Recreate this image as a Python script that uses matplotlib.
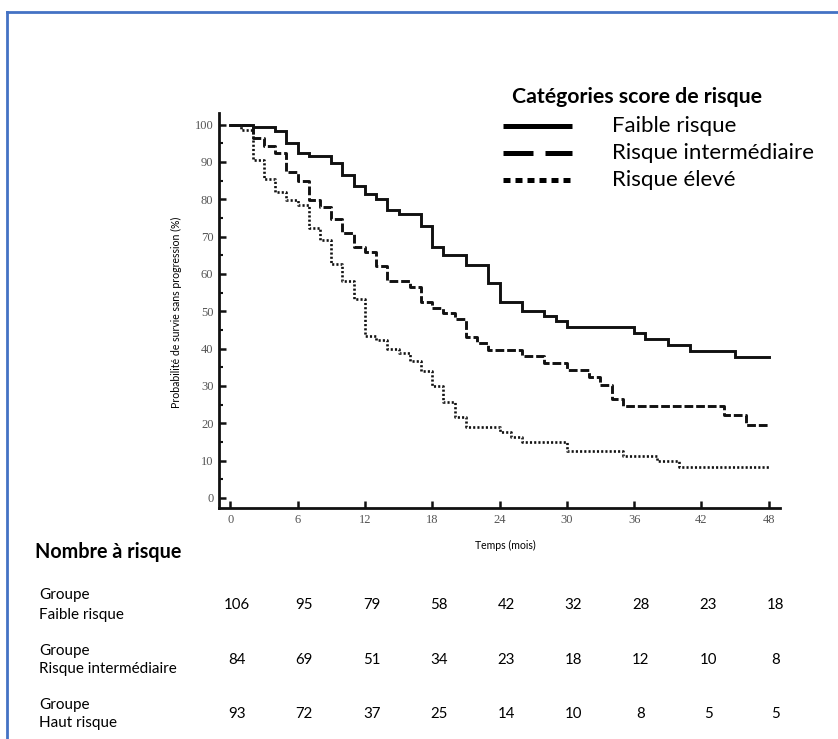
import matplotlib.pyplot as plt
from matplotlib.lines import Line2D
from matplotlib.ticker import MultipleLocator
import matplotlib.transforms as mtransforms

# Courbes de survie (temps en mois, probabilité en %)
t_faible = [0, 2, 4, 5, 6, 7, 9, 10, 11, 12, 13, 14, 15, 17, 18, 19, 21, 23, 24,
            26, 28, 29, 30, 36, 37, 39, 41, 45, 48]
s_faible = [100, 99.3, 98.2, 95.1, 92.4, 91.5, 89.7, 86.4, 83.5, 81.3, 80.1, 77.2, 76.1,
            72.7, 67.3, 65.0, 62.5, 57.5, 52.6, 50.0, 48.6, 47.3, 45.8, 44.3, 42.6,
            40.9, 39.4, 37.7, 37.7]

t_inter = [0, 2, 3, 4, 5, 6, 7, 8, 9, 10, 11, 12, 13, 14, 16, 17, 18, 19, 20, 21, 22,
           23, 26, 28, 30, 32, 33, 34, 35, 44, 46, 48]
s_inter = [100, 96.5, 94.2, 92.4, 87.3, 84.8, 79.9, 77.8, 74.8, 71.0, 67.2, 66.0, 62.0,
           58.0, 56.5, 52.5, 51.0, 49.5, 47.8, 43.2, 41.5, 39.7, 37.9, 36.2, 34.2, 32.3,
           30.2, 26.5, 24.5, 22.2, 19.6, 19.6]

t_eleve = [0, 1, 2, 3, 4, 5, 6, 7, 8, 9, 10, 11, 12, 13, 14, 15, 16, 17, 18, 19, 20,
           21, 24, 25, 26, 30, 35, 38, 40, 48]
s_eleve = [100, 98.5, 90.4, 85.3, 81.9, 79.8, 78.4, 72.3, 69.2, 62.7, 58.0, 53.3, 43.4,
           42.2, 40.0, 38.7, 36.6, 34.0, 30.0, 25.6, 21.8, 19.0, 17.7, 16.4, 15.1, 12.6,
           11.2, 9.8, 8.3, 8.3]

# Nombre à risque
temps_risque = [0, 6, 12, 18, 24, 30, 36, 42, 48]
groupes = ['Groupe\nFaible risque', 'Groupe\nRisque intermédiaire', 'Groupe\nHaut risque']
n_faible = [106, 95, 79, 58, 42, 32, 28, 23, 18]
n_inter = [84, 69, 51, 34, 23, 18, 12, 10, 8]
n_eleve = [93, 72, 37, 25, 14, 10, 8, 5, 5]

legende = ['Faible risque', 'Risque intermédiaire', 'Risque élevé']

W, H = 838, 739
plt.rcParams['font.family'] = ['Lato', 'DejaVu Sans']
fig = plt.figure(figsize=(W / 100, H / 100), dpi=100)


def fx(x):
    return x / W


def fy(y):
    return 1 - y / H


# cadre bleu
fig.add_artist(Line2D([fx(7), fx(7)], [fy(12), 0], color='#4472C4', lw=2, transform=fig.transFigure))
fig.add_artist(Line2D([fx(7), 1], [fy(12), fy(12)], color='#4472C4', lw=2, transform=fig.transFigure))

ax = fig.add_axes([fx(219), fy(508), fx(780) - fx(219), fy(113) - fy(508)])
ax.plot(t_faible, s_faible, drawstyle='steps-post', color='#111111', lw=2.1, solid_joinstyle='miter')
ax.plot(t_inter, s_inter, drawstyle='steps-post', color='#111111', lw=2.1, linestyle=(0, (3, 1)))
ax.plot(t_eleve, s_eleve, drawstyle='steps-post', color='#111111', lw=1.9, linestyle=(0, (0.8, 0.8)))

ax.set_xlim(-1, 49)
ax.set_ylim(-2.7, 103.1)
for s in ['top', 'right']:
    ax.spines[s].set_visible(False)
for s in ['left', 'bottom']:
    ax.spines[s].set_linewidth(2.0)
    ax.spines[s].set_color('#111111')
ax.xaxis.set_major_locator(MultipleLocator(6))
ax.yaxis.set_minor_locator(MultipleLocator(5))
ax.set_yticks(range(0, 101, 10))
ax.tick_params(direction='in', width=1.8, length=5, color='#111111', labelcolor='#555555',
               labelsize=9, pad=4)
ax.tick_params(which='minor', direction='in', width=1.5, length=3, color='#111111')
for lab in ax.get_xticklabels() + ax.get_yticklabels():
    lab.set_fontfamily('Liberation Serif')

fig.text(fx(176), fy(312), 'Probabilité de survie sans progression (%)', rotation=90,
         ha='center', va='center', fontsize=7.6)
fig.text(fx(505), fy(545), 'Temps (mois)', ha='center', va='center', fontsize=7.6)

# légende
fig.text(fx(512), fy(97), 'Catégories score de risque', fontsize=15.3, fontweight='bold',
         ha='left', va='center')
styles = [dict(lw=3.6, linestyle='-'), dict(lw=3.6, linestyle=(0, (6, 2.4))),
          dict(lw=3.6, linestyle=(0, (1.4, 1.0)))]
for i, (lab, st) in enumerate(zip(legende, styles)):
    y = 126 + 27 * i
    fig.add_artist(Line2D([fx(503), fx(572)], [fy(y), fy(y)], color='black',
                          transform=fig.transFigure, solid_capstyle='butt',
                          dash_capstyle='butt', **st))
    fig.text(fx(612), fy(y), lab, fontsize=16, ha='left', va='center')

# tableau nombre à risque
fig.text(fx(35), fy(552), 'Nombre à risque', fontsize=14.2, fontweight='bold',
         ha='left', va='center')
trans = mtransforms.blended_transform_factory(ax.transData, fig.transFigure)
rows_y = [605, 660, 714]
for g, vals, y in zip(groupes, [n_faible, n_inter, n_eleve], rows_y):
    l1, l2 = g.split('\n')
    fig.text(fx(39), fy(y - 9.5), l1, fontsize=11, ha='left', va='center')
    fig.text(fx(39), fy(y + 9.5), l2, fontsize=11, ha='left', va='center')
    for t, v in zip(temps_risque, vals):
        fig.text(t + 0.6, fy(y), str(v), fontsize=10.8, ha='center', va='center',
                 transform=trans)

fig.savefig('out.png', dpi=100)
